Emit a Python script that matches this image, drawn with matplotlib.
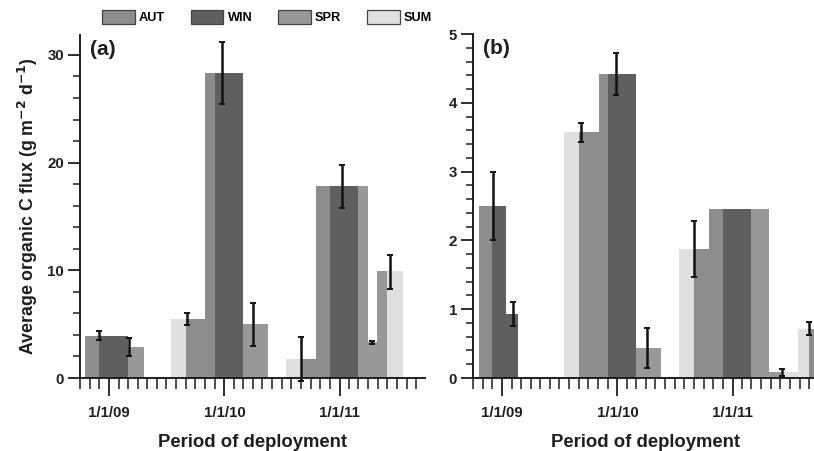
import numpy as np
import matplotlib
matplotlib.use('Agg')
from matplotlib import pyplot as plt
import matplotlib.dates as mdates
from matplotlib.patches import Patch
from matplotlib.ticker import MultipleLocator, FuncFormatter

plt.rcParams['font.family'] = ['Liberation Sans', 'DejaVu Sans']
plt.rcParams['font.weight'] = 'bold'

SEASONS = ['AUT', 'WIN', 'SPR', 'SUM']
SEASON_COLORS = {'AUT': '#8d8d90', 'WIN': '#5f5f62', 'SPR': '#98989b', 'SUM': '#e0e0e2'}

# panel (a): organic C flux, bars span the deployment periods
a_start = ['2008-10-17', '2008-12-01', '2009-03-01',
           '2009-07-15', '2009-09-01', '2009-11-01', '2009-12-01', '2010-03-01',
           '2010-07-15', '2010-09-01', '2010-10-18', '2010-12-01', '2011-03-01',
           '2011-04-01', '2011-04-28', '2011-06-01']
a_end = ['2008-12-01', '2009-03-01', '2009-04-23',
         '2009-09-01', '2009-11-01', '2009-12-01', '2010-03-01', '2010-05-18',
         '2010-09-01', '2010-10-18', '2010-12-01', '2011-03-01', '2011-04-01',
         '2011-04-28', '2011-06-01', '2011-07-21']
a_season = ['AUT', 'WIN', 'SPR',
            'SUM', 'AUT', 'AUT', 'WIN', 'SPR',
            'SUM', 'AUT', 'AUT', 'WIN', 'SPR',
            'SPR', 'SPR', 'SUM']
a_value = [3.93, 3.93, 2.88,
           5.48, 5.48, 28.3, 28.3, 5.0,
           1.76, 1.76, 17.8, 17.8, 17.8,
           3.3, 9.9, 9.9]
a_err_date = ['2008-12-01', '2009-03-05', '2009-09-04', '2009-12-23', '2010-04-03',
              '2010-08-30', '2011-01-08', '2011-04-13', '2011-06-08']
a_err_mean = [3.95, 2.88, 5.5, 28.3, 5.0, 1.75, 17.8, 3.3, 9.85]
a_err_sd = [0.45, 0.8, 0.55, 2.9, 2.0, 2.05, 2.0, 0.15, 1.6]

# panel (b)
b_start = ['2008-10-19', '2008-12-01', '2009-01-15',
           '2009-07-15', '2009-09-01', '2009-11-03', '2009-12-01', '2010-03-01',
           '2010-07-15', '2010-09-01', '2010-10-18', '2010-12-01', '2011-03-01',
           '2011-04-27', '2011-06-03', '2011-07-26', '2011-09-01']
b_end = ['2008-12-01', '2009-01-15', '2009-02-19',
         '2009-09-01', '2009-11-03', '2009-12-01', '2010-03-01', '2010-05-18',
         '2010-09-01', '2010-10-18', '2010-12-01', '2011-03-01', '2011-04-27',
         '2011-06-03', '2011-07-26', '2011-09-01', '2011-10-15']
b_season = ['AUT', 'WIN', 'WIN',
            'SUM', 'AUT', 'AUT', 'WIN', 'SPR',
            'SUM', 'AUT', 'AUT', 'WIN', 'SPR',
            'SPR', 'SUM', 'SUM', 'AUT']
b_value = [2.5, 2.5, 0.93,
           3.57, 3.57, 4.42, 4.42, 0.44,
           1.875, 1.875, 2.45, 2.45, 2.45,
           0.087, 0.087, 0.71, 0.71]
b_err_date = ['2008-12-02', '2009-02-04', '2009-09-08', '2009-12-29', '2010-04-04',
              '2010-09-01', '2011-06-07', '2011-08-30']
b_err_mean = [2.5, 0.93, 3.57, 4.42, 0.44, 1.875, 0.085, 0.72]
b_err_sd = [0.5, 0.18, 0.14, 0.3, 0.29, 0.41, 0.05, 0.09]

X_MIN, X_MAX = '2008-10-01', '2011-09-28'
TEXT = '#1e1e1e'


def to_num(dates):
    return mdates.date2num(np.array(dates, dtype='datetime64[D]'))


def year_label(x, pos):
    d = mdates.num2date(x)
    return f'{d.month}/{d.day}/{d:%y}'


def draw_panel(ax, start, end, season, value, err_date, err_mean, err_sd,
               ymax, major, minor, tag):
    x0 = to_num(start)
    x1 = to_num(end)
    ax.bar(x0, value, width=x1 - x0, align='edge',
           color=[SEASON_COLORS[s] for s in season], linewidth=0)

    eb = ax.errorbar(to_num(err_date), err_mean, yerr=err_sd, fmt='none',
                     ecolor='#111111', elinewidth=1.8, capsize=2, capthick=1.4)
    for artist in eb.lines[1] + eb.lines[2]:
        artist.set_clip_on(False)

    ax.set_xlim(to_num([X_MIN])[0], to_num([X_MAX])[0])
    ax.set_ylim(0, ymax)

    ax.spines['top'].set_visible(False)
    ax.spines['right'].set_visible(False)
    for side in ('left', 'bottom'):
        ax.spines[side].set_linewidth(1.4)
        ax.spines[side].set_color(TEXT)

    ax.xaxis.set_major_locator(mdates.YearLocator())
    ax.xaxis.set_minor_locator(mdates.MonthLocator())
    ax.xaxis.set_major_formatter(FuncFormatter(year_label))
    ax.yaxis.set_major_locator(MultipleLocator(major))
    ax.yaxis.set_minor_locator(MultipleLocator(minor))

    ax.tick_params(axis='x', which='major', length=13, width=1.3, pad=7,
                   labelsize=10.8, colors=TEXT)
    ax.tick_params(axis='x', which='minor', length=8, width=1.1, colors=TEXT)
    ax.tick_params(axis='y', which='major', length=8.5, width=1.3, pad=3,
                   labelsize=10.8, colors=TEXT)
    ax.tick_params(axis='y', which='minor', length=5, width=1.1, colors=TEXT)

    ax.set_xlabel('Period of deployment', fontsize=13.3, fontweight='bold',
                  color=TEXT, labelpad=10)
    ax.text(0.03, 0.985, tag, transform=ax.transAxes, fontsize=15,
            fontweight='bold', va='top', ha='left', color=TEXT)


fig = plt.figure(figsize=(8.14, 4.51), dpi=100)
W, H = 814, 451
ax_a = fig.add_axes([80 / W, 1 - 378 / H, 345 / W, 343 / H])
ax_b = fig.add_axes([473 / W, 1 - 378 / H, 345 / W, 344 / H])

draw_panel(ax_a, a_start, a_end, a_season, a_value,
           a_err_date, a_err_mean, a_err_sd, 31.85, 10, 2, '(a)')
draw_panel(ax_b, b_start, b_end, b_season, b_value,
           b_err_date, b_err_mean, b_err_sd, 5, 1, 0.2, '(b)')

ax_a.set_ylabel('Average organic C flux (g m$^{\\mathbf{-2}}$ d$^{\\mathbf{-1}}$)',
                fontsize=12.8, fontweight='bold', color=TEXT, labelpad=5)

handles = [Patch(facecolor=SEASON_COLORS[s], edgecolor='#444444', linewidth=0.9)
           for s in SEASONS]
fig.legend(handles, SEASONS, loc='upper left', bbox_to_anchor=(102 / W, 1 - 10 / H),
           ncol=4, frameon=False, borderpad=0, borderaxespad=0,
           handlelength=2.55, handleheight=1.3, handletextpad=0.35,
           columnspacing=2.0, prop={'size': 9.2, 'weight': 'bold'})

fig.savefig('out.png', dpi=100)
